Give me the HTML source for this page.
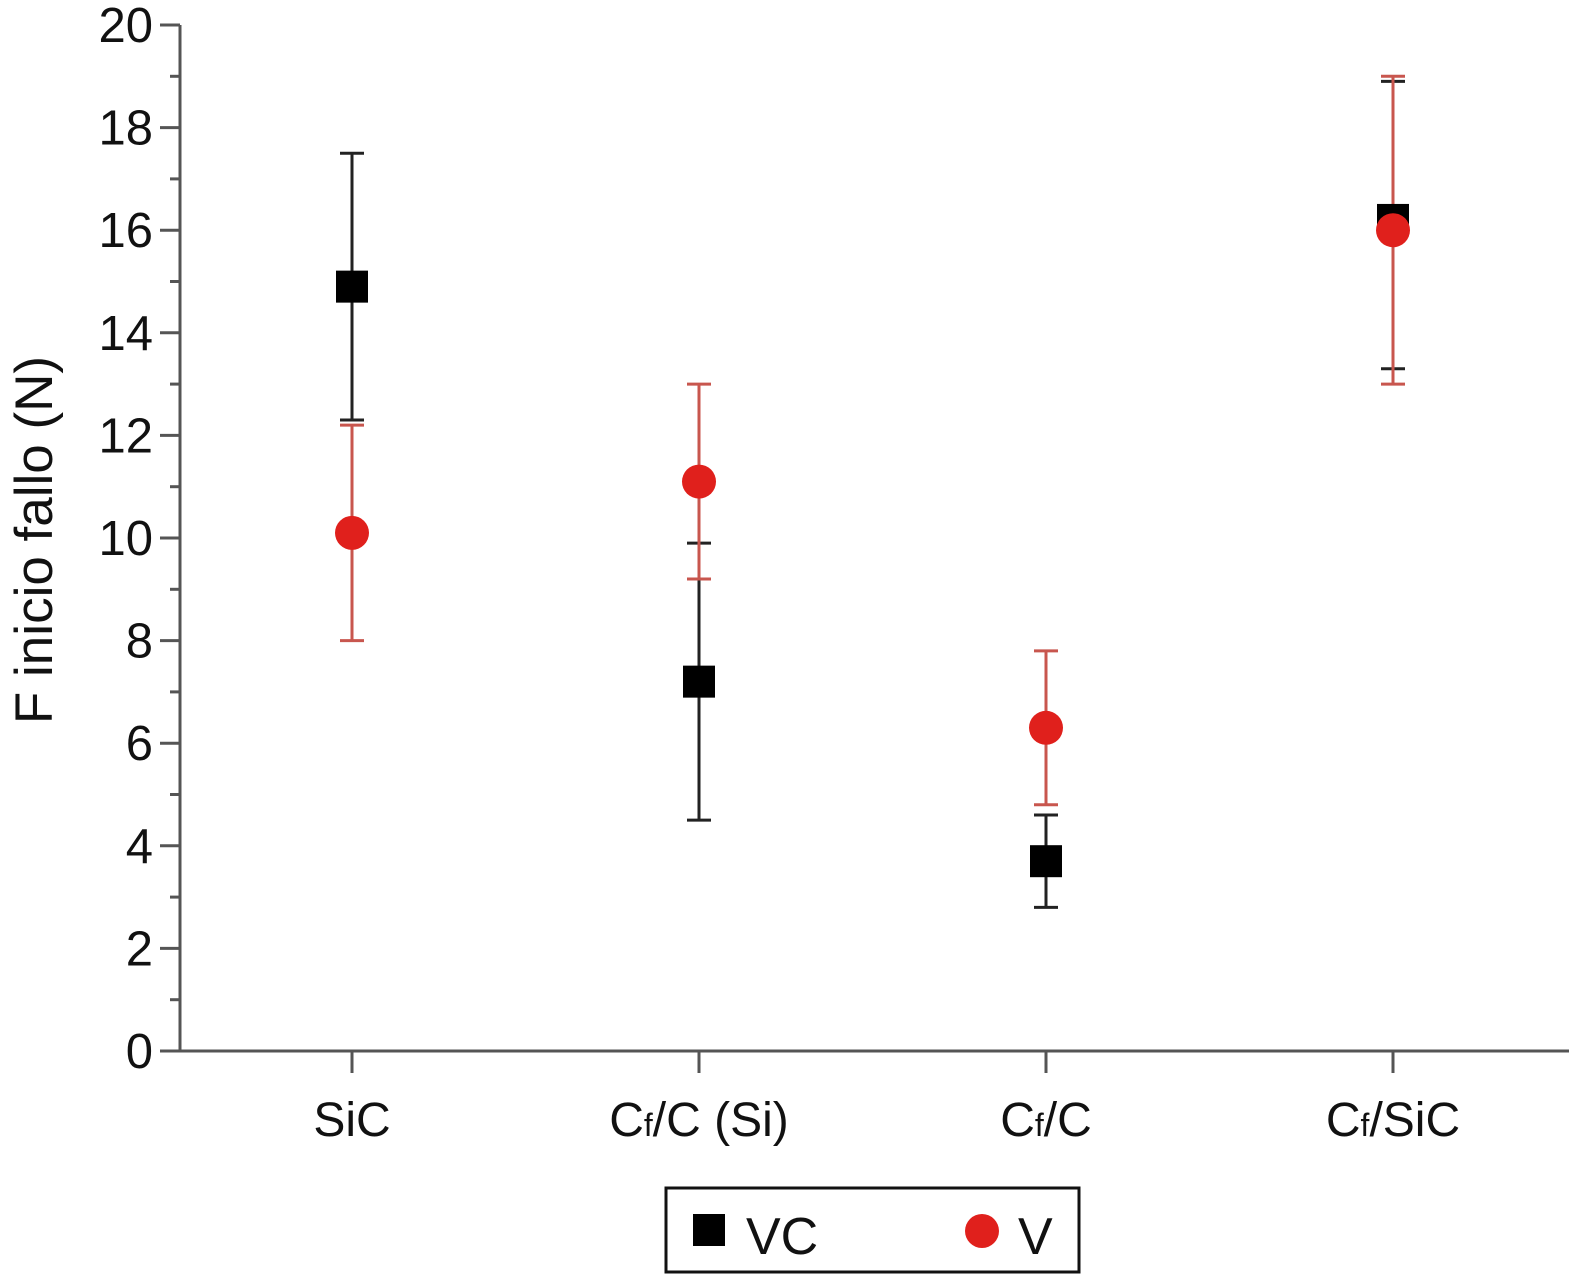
<!DOCTYPE html>
<html><head><meta charset="utf-8"><style>
html,body{margin:0;padding:0;background:#fff;}
svg{display:block;font-family:"Liberation Sans",Arial,sans-serif;}
</style></head><body>
<svg id="chart" width="1569" height="1275" viewBox="0 0 1569 1275" xmlns="http://www.w3.org/2000/svg">
<g id="axes"></g>
<g id="marks"></g>
<text transform="translate(52,540) rotate(-90)" text-anchor="middle" font-size="53" fill="#111">F inicio fallo (N)</text>
<g>
<rect x="666" y="1188" width="413" height="84" fill="#fff" stroke="#111" stroke-width="3"/>
<rect x="693" y="1214" width="32" height="32" fill="#000"/>
<text x="746" y="1254" font-size="52" fill="#111">VC</text>
<circle cx="982" cy="1231" r="17" fill="#e0201c"/>
<text x="1018" y="1254" font-size="52" fill="#111">V</text>
</g>
</svg>
<script>
const categories = ["SiC", "Cf/C (Si)", "Cf/C", "Cf/SiC"];
const vcValues = [14.9, 7.2, 3.7, 16.2];
const vcLow = [12.3, 4.5, 2.8, 13.3];
const vcHigh = [17.5, 9.9, 4.6, 18.9];
const vValues = [10.1, 11.1, 6.3, 16.0];
const vLow = [8.0, 9.2, 4.8, 13.0];
const vHigh = [12.2, 13.0, 7.8, 19.0];
const yTicks = [0, 2, 4, 6, 8, 10, 12, 14, 16, 18, 20];

const NS = "http://www.w3.org/2000/svg";
const y0 = 1051, y20 = 25, axisX = 180;
function yScale(v){ return y0 - (y0 - y20) * v / 20; }
function xScale(i){ return 352 + i * 347; }
function mk(tag, attrs, parent){ const e = document.createElementNS(NS, tag); for (const k in attrs) e.setAttribute(k, attrs[k]); parent.appendChild(e); return e; }

const axes = document.getElementById("axes");
const marks = document.getElementById("marks");
let l = mk("line", {x1: axisX, y1: y20, x2: axisX, y2: y0, stroke: "#555", "stroke-width": 3}, axes);


l = mk("line", {x1: 160, y1: y0, x2: 1569, y2: y0, stroke: "#555", "stroke-width": 3}, axes);


yTicks.forEach((t, i) => {
  const y = yScale(t);
  const tk = mk("line", {x1: 160, y1: y, x2: axisX, y2: y, stroke: "#555", "stroke-width": 3}, axes);
  
  
  const tx = mk("text", {x: 153, y: y + 17, "text-anchor": "end", "font-size": 49, fill: "#111"}, axes);
  tx.textContent = t;
  
  
  if (i < yTicks.length - 1) {
    const ym = yScale(t + 1);
    const mt = mk("line", {x1: 170, y1: ym, x2: axisX, y2: ym, stroke: "#555", "stroke-width": 3}, axes);
    
    
  }
});
categories.forEach((c, i) => {
  const x = xScale(i);
  const tk = mk("line", {x1: x, y1: y0, x2: x, y2: 1073, stroke: "#555", "stroke-width": 3}, axes);
  
  
  const tx = mk("text", {x: x, y: 1136, "text-anchor": "middle", "font-size": 48, fill: "#111"}, axes);
  if (c.startsWith("Cf")) {
    const s1 = mk("tspan", {}, tx); s1.textContent = "C";
    const s2 = mk("tspan", {"font-size": 32}, tx); s2.textContent = "f";
    const s3 = mk("tspan", {}, tx); s3.textContent = c.slice(2);
  } else tx.textContent = c;
  
  
});
function errBar(x, lo, hi, color, name){
  const g = mk("g", {stroke: color, "stroke-width": 3}, marks);
  
  
  mk("line", {x1: x, y1: yScale(lo), x2: x, y2: yScale(hi)}, g);
  mk("line", {x1: x - 12, y1: yScale(lo), x2: x + 12, y2: yScale(lo)}, g);
  mk("line", {x1: x - 12, y1: yScale(hi), x2: x + 12, y2: yScale(hi)}, g);
}
categories.forEach((c, i) => {
  const x = xScale(i);
  errBar(x, vcLow[i], vcHigh[i], "#222", "vc-error-bar");
  errBar(x, vLow[i], vHigh[i], "#c8564e", "v-error-bar");
});
categories.forEach((c, i) => {
  const x = xScale(i);
  const r = mk("rect", {x: x - 16, y: yScale(vcValues[i]) - 16, width: 32, height: 32, fill: "#000"}, marks);
  
  
});
categories.forEach((c, i) => {
  const x = xScale(i);
  const p = mk("circle", {cx: x, cy: yScale(vValues[i]), r: 17, fill: "#e0201c"}, marks);
  
  
});
</script>
</body></html>
